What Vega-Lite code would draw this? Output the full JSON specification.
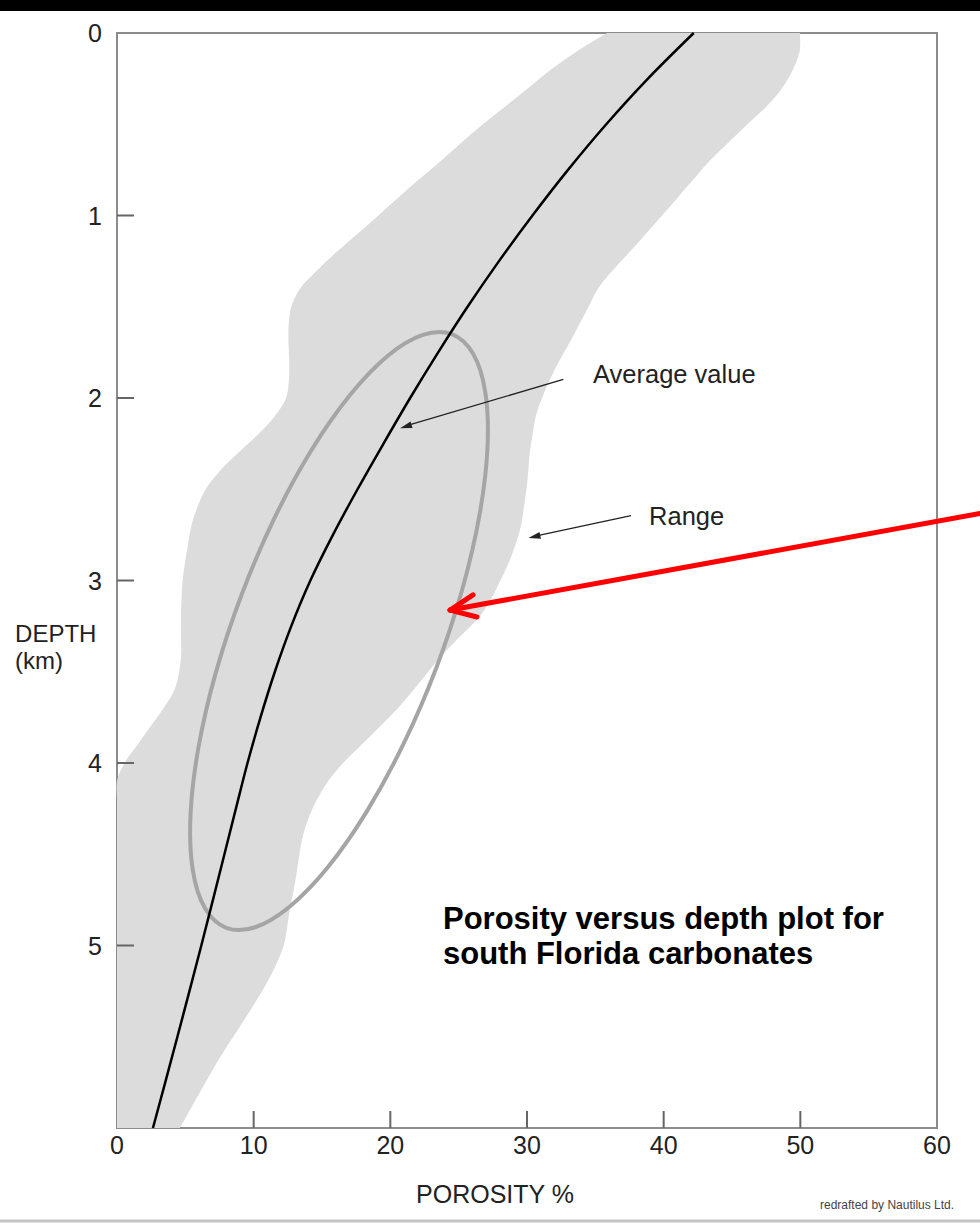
{
  "$schema": "https://vega.github.io/schema/vega-lite/v6.json",
  "width": 820,
  "height": 1095,
  "autosize": {"type": "none"},
  "padding": {"left": 117, "top": 33, "right": 43, "bottom": 97},
  "background": "white",
  "config": {
    "font": "Liberation Sans",
    "view": {"stroke": "#8c8c8c", "strokeWidth": 2}
  },
  "datasets": {
    "topbar": [{"x1": -9, "x2": 64, "d1": -0.19, "d2": -0.1205}],
    "bottomline": [{"x1": -9, "x2": 64, "d": 6.51}],
    "band": [
      {"d": 0.0, "lo": 35.85, "hi": 49.97},
      {"d": 0.1, "lo": 33.66, "hi": 49.95},
      {"d": 0.2, "lo": 31.76, "hi": 49.46},
      {"d": 0.3, "lo": 30.12, "hi": 48.68},
      {"d": 0.4, "lo": 28.46, "hi": 47.56},
      {"d": 0.5, "lo": 26.77, "hi": 46.13},
      {"d": 0.6, "lo": 25.21, "hi": 44.75},
      {"d": 0.7, "lo": 23.71, "hi": 43.37},
      {"d": 0.8, "lo": 22.13, "hi": 42.2},
      {"d": 0.9, "lo": 20.61, "hi": 41.05},
      {"d": 1.0, "lo": 19.12, "hi": 39.88},
      {"d": 1.1, "lo": 17.61, "hi": 38.7},
      {"d": 1.2, "lo": 16.07, "hi": 37.51},
      {"d": 1.3, "lo": 14.65, "hi": 36.28},
      {"d": 1.4, "lo": 13.4, "hi": 35.2},
      {"d": 1.5, "lo": 12.75, "hi": 34.5},
      {"d": 1.6, "lo": 12.56, "hi": 33.8},
      {"d": 1.7, "lo": 12.55, "hi": 33.09},
      {"d": 1.8, "lo": 12.6, "hi": 32.34},
      {"d": 1.9, "lo": 12.58, "hi": 31.67},
      {"d": 2.0, "lo": 12.37, "hi": 31.1},
      {"d": 2.1, "lo": 11.54, "hi": 30.64},
      {"d": 2.2, "lo": 10.32, "hi": 30.41},
      {"d": 2.3, "lo": 8.87, "hi": 30.2},
      {"d": 2.4, "lo": 7.53, "hi": 30.09},
      {"d": 2.5, "lo": 6.49, "hi": 29.96},
      {"d": 2.6, "lo": 5.87, "hi": 29.77},
      {"d": 2.7, "lo": 5.44, "hi": 29.56},
      {"d": 2.8, "lo": 5.2, "hi": 29.17},
      {"d": 2.9, "lo": 4.98, "hi": 28.68},
      {"d": 3.0, "lo": 4.8, "hi": 28.05},
      {"d": 3.1, "lo": 4.72, "hi": 27.38},
      {"d": 3.2, "lo": 4.68, "hi": 26.5},
      {"d": 3.3, "lo": 4.68, "hi": 25.2},
      {"d": 3.4, "lo": 4.7, "hi": 23.9},
      {"d": 3.5, "lo": 4.55, "hi": 22.77},
      {"d": 3.6, "lo": 4.2, "hi": 21.69},
      {"d": 3.7, "lo": 3.4, "hi": 20.55},
      {"d": 3.8, "lo": 2.45, "hi": 19.24},
      {"d": 3.9, "lo": 1.5, "hi": 17.9},
      {"d": 4.0, "lo": 0.55, "hi": 16.55},
      {"d": 4.1, "lo": 0, "hi": 15.45},
      {"d": 4.2, "lo": 0, "hi": 14.64},
      {"d": 4.3, "lo": 0, "hi": 14.02},
      {"d": 4.4, "lo": 0, "hi": 13.6},
      {"d": 4.5, "lo": 0, "hi": 13.35},
      {"d": 4.6, "lo": 0, "hi": 13.15},
      {"d": 4.7, "lo": 0, "hi": 12.92},
      {"d": 4.8, "lo": 0, "hi": 12.65},
      {"d": 4.9, "lo": 0, "hi": 12.45},
      {"d": 5.0, "lo": 0, "hi": 12.2},
      {"d": 5.1, "lo": 0, "hi": 11.67},
      {"d": 5.2, "lo": 0, "hi": 11.0},
      {"d": 5.3, "lo": 0, "hi": 10.21},
      {"d": 5.4, "lo": 0, "hi": 9.37},
      {"d": 5.5, "lo": 0, "hi": 8.51},
      {"d": 5.6, "lo": 0, "hi": 7.65},
      {"d": 5.7, "lo": 0, "hi": 6.86},
      {"d": 5.8, "lo": 0, "hi": 6.1},
      {"d": 5.9, "lo": 0, "hi": 5.35},
      {"d": 6.0, "lo": 0, "hi": 4.6}
    ],
    "avg": [
      {"d": 0.0, "x": 42.2},
      {"d": 0.25, "x": 38.85},
      {"d": 0.5, "x": 35.8},
      {"d": 0.75, "x": 33.0},
      {"d": 1.0, "x": 30.4},
      {"d": 1.25, "x": 27.95},
      {"d": 1.5, "x": 25.65},
      {"d": 1.75, "x": 23.5},
      {"d": 2.0, "x": 21.45},
      {"d": 2.25, "x": 19.5},
      {"d": 2.5, "x": 17.6},
      {"d": 2.75, "x": 15.8},
      {"d": 3.0, "x": 14.15},
      {"d": 3.25, "x": 12.75},
      {"d": 3.5, "x": 11.55},
      {"d": 3.75, "x": 10.5},
      {"d": 4.0, "x": 9.55},
      {"d": 4.25, "x": 8.7},
      {"d": 4.5, "x": 7.86},
      {"d": 4.75, "x": 7.02},
      {"d": 5.0, "x": 6.17},
      {"d": 5.25, "x": 5.3},
      {"d": 5.5, "x": 4.42},
      {"d": 5.75, "x": 3.53},
      {"d": 6.0, "x": 2.63}
    ],
    "ellipse": [
      {"i": 1, "x": 7.99, "d": 4.903},
      {"i": 2, "x": 10.11, "d": 4.9},
      {"i": 3, "x": 12.65, "d": 4.786},
      {"i": 4, "x": 15.44, "d": 4.57},
      {"i": 5, "x": 18.28, "d": 4.265},
      {"i": 6, "x": 20.98, "d": 3.893},
      {"i": 7, "x": 23.36, "d": 3.479},
      {"i": 8, "x": 25.25, "d": 3.052},
      {"i": 9, "x": 26.53, "d": 2.639},
      {"i": 10, "x": 27.11, "d": 2.27},
      {"i": 11, "x": 26.95, "d": 1.969},
      {"i": 12, "x": 26.06, "d": 1.758},
      {"i": 13, "x": 24.5, "d": 1.65},
      {"i": 14, "x": 22.38, "d": 1.654},
      {"i": 15, "x": 19.84, "d": 1.767},
      {"i": 16, "x": 17.05, "d": 1.984},
      {"i": 17, "x": 14.21, "d": 2.288},
      {"i": 18, "x": 11.51, "d": 2.66},
      {"i": 19, "x": 9.13, "d": 3.075},
      {"i": 20, "x": 7.24, "d": 3.502},
      {"i": 21, "x": 5.96, "d": 3.915},
      {"i": 22, "x": 5.38, "d": 4.284},
      {"i": 23, "x": 5.54, "d": 4.584},
      {"i": 24, "x": 6.43, "d": 4.795}
    ],
    "xticks": [{"x": 10, "d": 6}, {"x": 20, "d": 6}, {"x": 30, "d": 6}, {"x": 40, "d": 6}, {"x": 50, "d": 6}],
    "yticks": [{"x": 0, "d": 1}, {"x": 0, "d": 2}, {"x": 0, "d": 3}, {"x": 0, "d": 4}, {"x": 0, "d": 5}],
    "xlabels": [{"v": 0}, {"v": 10}, {"v": 20}, {"v": 30}, {"v": 40}, {"v": 50}, {"v": 60}],
    "ylabels": [{"v": 0}, {"v": 1}, {"v": 2}, {"v": 3}, {"v": 4}, {"v": 5}],
    "axistitles": [
      {"label": "POROSITY %", "x": 27.66, "d": 6.411, "anchor": "center"},
      {"label": "DEPTH", "x": -7.46, "d": 3.337, "anchor": "left"},
      {"label": "(km)", "x": -7.46, "d": 3.485, "anchor": "left"}
    ],
    "shafts": [
      {"x": 32.66, "d": 1.898, "x2": 21.2, "d2": 2.151},
      {"x": 37.61, "d": 2.644, "x2": 30.6, "d2": 2.757}
    ],
    "headAvg": [{"x": 20.71, "d": 2.166}],
    "headRange": [{"x": 30.11, "d": 2.767}],
    "red": [
      {"x": 63.14, "d": 2.633, "x2": 24.37, "d2": 3.162},
      {"x": 24.37, "d": 3.162, "x2": 26.05, "d2": 3.079},
      {"x": 24.37, "d": 3.162, "x2": 26.34, "d2": 3.2}
    ],
    "notes": [
      {"label": "Average value", "x": 34.83, "d": 1.916},
      {"label": "Range", "x": 38.93, "d": 2.696}
    ],
    "heading": [
      {"label": "Porosity versus depth plot for", "x": 23.85, "d": 4.907},
      {"label": "south Florida carbonates", "x": 23.85, "d": 5.104}
    ],
    "credit": [{"label": "redrafted by Nautilus Ltd.", "x": 51.44, "d": 6.444}]
  },
  "layer": [
    {
      "data": {"name": "band"},
      "mark": {"type": "area", "orient": "horizontal", "color": "#dcdcdc", "opacity": 1, "interpolate": "catmull-rom"},
      "encoding": {
        "y": {"field": "d", "type": "quantitative", "scale": {"domain": [0, 6], "reverse": true, "nice": false, "zero": false}, "axis": null},
        "x": {"field": "lo", "type": "quantitative", "scale": {"domain": [0, 60], "nice": false, "zero": false}, "axis": null},
        "x2": {"field": "hi"}
      }
    },
    {
      "data": {"name": "topbar"},
      "mark": {"type": "rect", "color": "black"},
      "encoding": {
        "x": {"field": "x1", "type": "quantitative", "scale": {"domain": [0, 60], "nice": false, "zero": false}, "axis": null},
        "x2": {"field": "x2"},
        "y": {"field": "d1", "type": "quantitative", "scale": {"domain": [0, 6], "reverse": true, "nice": false, "zero": false}, "axis": null},
        "y2": {"field": "d2"}
      }
    },
    {
      "data": {"name": "bottomline"},
      "mark": {"type": "rule", "color": "#c4c4c4", "strokeWidth": 3},
      "encoding": {
        "x": {"field": "x1", "type": "quantitative", "scale": {"domain": [0, 60], "nice": false, "zero": false}, "axis": null},
        "x2": {"field": "x2"},
        "y": {"field": "d", "type": "quantitative", "scale": {"domain": [0, 6], "reverse": true, "nice": false, "zero": false}, "axis": null}
      }
    },
    {
      "data": {"name": "xticks"},
      "mark": {"type": "tick", "orient": "vertical", "size": 34, "thickness": 2, "color": "#666", "clip": true, "opacity": 1},
      "encoding": {
        "x": {"field": "x", "type": "quantitative", "scale": {"domain": [0, 60], "nice": false, "zero": false}, "axis": null},
        "y": {"field": "d", "type": "quantitative", "scale": {"domain": [0, 6], "reverse": true, "nice": false, "zero": false}, "axis": null}
      }
    },
    {
      "data": {"name": "yticks"},
      "mark": {"type": "tick", "orient": "horizontal", "size": 34, "thickness": 2, "color": "#666", "clip": true, "opacity": 1},
      "encoding": {
        "x": {"field": "x", "type": "quantitative", "scale": {"domain": [0, 60], "nice": false, "zero": false}, "axis": null},
        "y": {"field": "d", "type": "quantitative", "scale": {"domain": [0, 6], "reverse": true, "nice": false, "zero": false}, "axis": null}
      }
    },
    {
      "data": {"name": "xlabels"},
      "mark": {"type": "text", "align": "center", "baseline": "alphabetic", "dy": 26, "fontSize": 25, "color": "#222"},
      "encoding": {
        "x": {"field": "v", "type": "quantitative", "scale": {"domain": [0, 60], "nice": false, "zero": false}, "axis": null},
        "y": {"datum": 6, "type": "quantitative", "scale": {"domain": [0, 6], "reverse": true, "nice": false, "zero": false}, "axis": null},
        "text": {"field": "v", "type": "quantitative", "format": "d"}
      }
    },
    {
      "data": {"name": "ylabels"},
      "mark": {"type": "text", "align": "right", "baseline": "alphabetic", "dx": -15, "dy": 9, "fontSize": 25, "color": "#222"},
      "encoding": {
        "x": {"datum": 0, "type": "quantitative", "scale": {"domain": [0, 60], "nice": false, "zero": false}, "axis": null},
        "y": {"field": "v", "type": "quantitative", "scale": {"domain": [0, 6], "reverse": true, "nice": false, "zero": false}, "axis": null},
        "text": {"field": "v", "type": "quantitative", "format": "d"}
      }
    },
    {
      "data": {"name": "axistitles"},
      "transform": [{"filter": "datum.anchor === 'center'"}],
      "mark": {"type": "text", "align": "center", "baseline": "alphabetic", "fontSize": 25, "color": "#222"},
      "encoding": {
        "x": {"field": "x", "type": "quantitative", "scale": {"domain": [0, 60], "nice": false, "zero": false}, "axis": null},
        "y": {"field": "d", "type": "quantitative", "scale": {"domain": [0, 6], "reverse": true, "nice": false, "zero": false}, "axis": null},
        "text": {"field": "label"}
      }
    },
    {
      "data": {"name": "axistitles"},
      "transform": [{"filter": "datum.anchor === 'left'"}],
      "mark": {"type": "text", "align": "left", "baseline": "alphabetic", "fontSize": 24, "color": "#222"},
      "encoding": {
        "x": {"field": "x", "type": "quantitative", "scale": {"domain": [0, 60], "nice": false, "zero": false}, "axis": null},
        "y": {"field": "d", "type": "quantitative", "scale": {"domain": [0, 6], "reverse": true, "nice": false, "zero": false}, "axis": null},
        "text": {"field": "label"}
      }
    },
    {
      "data": {"name": "ellipse"},
      "mark": {"type": "line", "color": "#a5a5a5", "strokeWidth": 4, "interpolate": "cardinal-closed"},
      "encoding": {
        "x": {"field": "x", "type": "quantitative", "scale": {"domain": [0, 60], "nice": false, "zero": false}, "axis": null},
        "y": {"field": "d", "type": "quantitative", "scale": {"domain": [0, 6], "reverse": true, "nice": false, "zero": false}, "axis": null},
        "order": {"field": "i", "type": "quantitative"}
      }
    },
    {
      "data": {"name": "avg"},
      "mark": {"type": "line", "color": "black", "strokeWidth": 2.5, "interpolate": "catmull-rom"},
      "encoding": {
        "x": {"field": "x", "type": "quantitative", "scale": {"domain": [0, 60], "nice": false, "zero": false}, "axis": null},
        "y": {"field": "d", "type": "quantitative", "scale": {"domain": [0, 6], "reverse": true, "nice": false, "zero": false}, "axis": null},
        "order": {"field": "d", "type": "quantitative"}
      }
    },
    {
      "data": {"name": "shafts"},
      "mark": {"type": "rule", "color": "#222", "strokeWidth": 1.3},
      "encoding": {
        "x": {"field": "x", "type": "quantitative", "scale": {"domain": [0, 60], "nice": false, "zero": false}, "axis": null},
        "y": {"field": "d", "type": "quantitative", "scale": {"domain": [0, 6], "reverse": true, "nice": false, "zero": false}, "axis": null},
        "x2": {"field": "x2"},
        "y2": {"field": "d2"}
      }
    },
    {
      "data": {"name": "headAvg"},
      "mark": {"type": "point", "shape": "M0,0L1.6,-0.45L1.6,0.45Z", "size": 225, "filled": true, "color": "#222", "opacity": 1, "angle": -16.7},
      "encoding": {
        "x": {"field": "x", "type": "quantitative", "scale": {"domain": [0, 60], "nice": false, "zero": false}, "axis": null},
        "y": {"field": "d", "type": "quantitative", "scale": {"domain": [0, 6], "reverse": true, "nice": false, "zero": false}, "axis": null}
      }
    },
    {
      "data": {"name": "headRange"},
      "mark": {"type": "point", "shape": "M0,0L1.6,-0.45L1.6,0.45Z", "size": 225, "filled": true, "color": "#222", "opacity": 1, "angle": -12.4},
      "encoding": {
        "x": {"field": "x", "type": "quantitative", "scale": {"domain": [0, 60], "nice": false, "zero": false}, "axis": null},
        "y": {"field": "d", "type": "quantitative", "scale": {"domain": [0, 6], "reverse": true, "nice": false, "zero": false}, "axis": null}
      }
    },
    {
      "data": {"name": "red"},
      "mark": {"type": "rule", "color": "#ff0000", "strokeWidth": 5, "strokeCap": "round"},
      "encoding": {
        "x": {"field": "x", "type": "quantitative", "scale": {"domain": [0, 60], "nice": false, "zero": false}, "axis": null},
        "y": {"field": "d", "type": "quantitative", "scale": {"domain": [0, 6], "reverse": true, "nice": false, "zero": false}, "axis": null},
        "x2": {"field": "x2"},
        "y2": {"field": "d2"}
      }
    },
    {
      "data": {"name": "notes"},
      "mark": {"type": "text", "align": "left", "baseline": "alphabetic", "fontSize": 25.5, "color": "#222"},
      "encoding": {
        "x": {"field": "x", "type": "quantitative", "scale": {"domain": [0, 60], "nice": false, "zero": false}, "axis": null},
        "y": {"field": "d", "type": "quantitative", "scale": {"domain": [0, 6], "reverse": true, "nice": false, "zero": false}, "axis": null},
        "text": {"field": "label"}
      }
    },
    {
      "data": {"name": "heading"},
      "mark": {"type": "text", "align": "left", "baseline": "alphabetic", "fontSize": 31, "fontWeight": "bold", "color": "#000"},
      "encoding": {
        "x": {"field": "x", "type": "quantitative", "scale": {"domain": [0, 60], "nice": false, "zero": false}, "axis": null},
        "y": {"field": "d", "type": "quantitative", "scale": {"domain": [0, 6], "reverse": true, "nice": false, "zero": false}, "axis": null},
        "text": {"field": "label"}
      }
    },
    {
      "data": {"name": "credit"},
      "mark": {"type": "text", "align": "left", "baseline": "alphabetic", "fontSize": 12, "color": "#444"},
      "encoding": {
        "x": {"field": "x", "type": "quantitative", "scale": {"domain": [0, 60], "nice": false, "zero": false}, "axis": null},
        "y": {"field": "d", "type": "quantitative", "scale": {"domain": [0, 6], "reverse": true, "nice": false, "zero": false}, "axis": null},
        "text": {"field": "label"}
      }
    }
  ]
}
